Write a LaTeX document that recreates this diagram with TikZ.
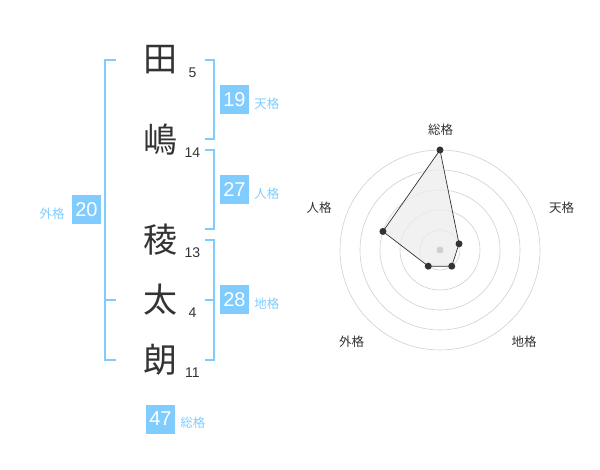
\documentclass[tikz,border=0pt]{standalone}
\usepackage{fontspec}
\setmainfont{Liberation Sans}
\newfontfamily\jp{Noto Sans CJK JP}
\usetikzlibrary{positioning,calc}
\definecolor{kakublue}{HTML}{80CCFF}
\definecolor{inkgray}{HTML}{333333}
\definecolor{ringgray}{HTML}{D0D0D0}
\definecolor{polyfill}{HTML}{EDEDED}

\tikzset{
  kanji/.style={inner sep=0pt, text=inkgray, font=\jp\fontsize{34}{34}\selectfont},
  strokes/.style={inner sep=0pt, text=inkgray, font=\fontsize{14}{14}\selectfont},
  kakubox/.style={fill=kakublue, text=white, minimum size=29pt, inner sep=0pt, font=\fontsize{20}{20}\selectfont},
  kakulbl/.style={inner sep=0pt, text=kakublue, yshift=-4pt, font=\jp\fontsize{12.5}{12.5}\selectfont},
  bracket/.style={draw=kakublue, line width=2pt},
  ring/.style={draw=ringgray, line width=0.6pt},
  radarlbl/.style={inner sep=0pt, text=inkgray, font=\jp\fontsize{12.5}{12.5}\selectfont},
  vdot/.style={circle, fill=inkgray, inner sep=0pt, minimum size=7pt},
}

\begin{document}
\begin{tikzpicture}[x=1pt, y=-1pt]
\useasboundingbox (0,0) rectangle (600,470);

% Name
\node[kanji] (ta) at (160,60) {田};
\node[kanji] (shima) at (160,140) {嶋};
\node[kanji] (ryo) at (160,240) {稜};
\node[kanji] (futo) at (160,300) {太};
\node[kanji] (ro) at (160,360) {朗};
\node[strokes] (ta-n) at (192.5,72.7) {5};
\node[strokes] (shima-n) at (192.5,152.7) {14};
\node[strokes] (ryo-n) at (192.5,252.7) {13};
\node[strokes] (futo-n) at (192.5,313) {4};
\node[strokes] (ro-n) at (192.5,372.7) {11};

% Brackets
\draw[bracket] (115.7,60) -- (105,60) -- (105,360) -- (115.7,360);
\draw[bracket] (105,300) -- (115.7,300);
\draw[bracket] (205,60) -- (214.3,60) -- (214.3,139.3) -- (205,139.3);
\draw[bracket] (205,150) -- (214.3,150) -- (214.3,229.3) -- (205,229.3);
\draw[bracket] (205,240) -- (214.3,240) -- (214.3,360) -- (205,360);
\draw[bracket] (205,300) -- (214.3,300);

% Boxes
\node[kakubox] (ten) at (234.5,100) {19};
\node[kakulbl, right=5pt of ten] (ten-l) {天格};
\node[kakubox] (jin) at (234.5,190) {27};
\node[kakulbl, right=5pt of jin] (jin-l) {人格};
\node[kakubox] (chi) at (234.5,300) {28};
\node[kakulbl, right=5pt of chi] (chi-l) {地格};
\node[kakubox] (gai) at (86.5,210) {20};
\node[kakulbl, left=7pt of gai] (gai-l) {外格};
\node[kakubox] (so) at (160.5,419) {47};
\node[kakulbl, right=5pt of so] (so-l) {総格};

% Radar
\coordinate (c) at (440,250);
\foreach \r in {20,40,...,100}
  \draw[ring] (c) circle (\r pt);
\coordinate (r-so) at ($(c)+(-90:100)$);
\coordinate (r-ten) at ($(c)+(-18:20)$);
\coordinate (r-chi) at ($(c)+(54:20)$);
\coordinate (r-gai) at ($(c)+(126:20)$);
\coordinate (r-jin) at ($(c)+(-162:60)$);
\draw[fill=polyfill, fill opacity=0.8, draw=inkgray, line width=0.7pt]
  (r-so) -- (r-ten) -- (r-chi) -- (r-gai) -- (r-jin) -- cycle;
\node[circle, fill=ringgray, inner sep=0pt, minimum size=7pt] (mid) at (c) {};
\foreach \p in {so,ten,chi,gai,jin}
  \node[vdot] (d-\p) at (r-\p) {};
\node[radarlbl] (rl-so) at (440.7,130) {総格};
\node[radarlbl] (rl-ten) at (561.7,208) {天格};
\node[radarlbl] (rl-jin) at (319,208) {人格};
\node[radarlbl] (rl-gai) at (351.7,341.7) {外格};
\node[radarlbl] (rl-chi) at (524,341.7) {地格};

\end{tikzpicture}
\end{document}
